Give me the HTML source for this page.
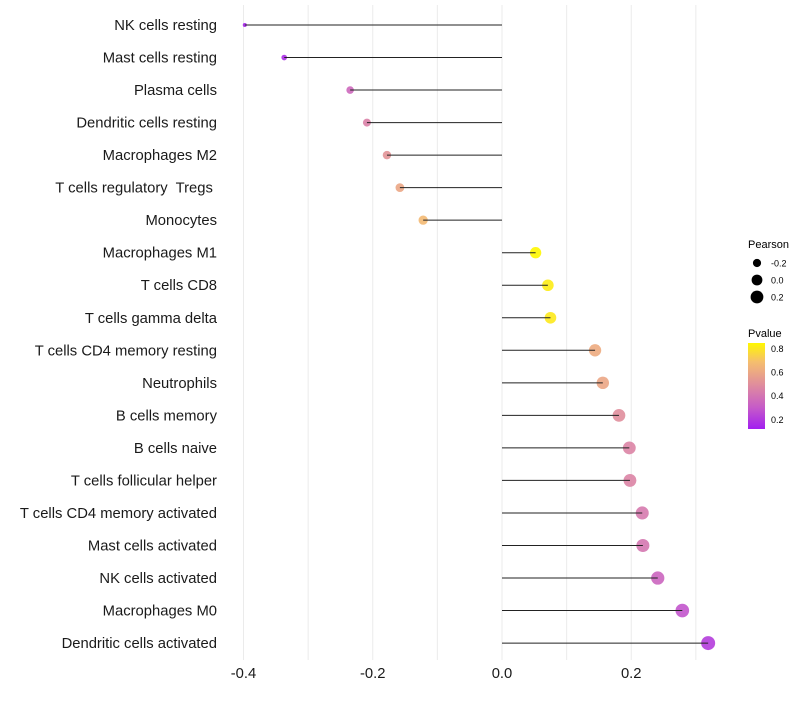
<!DOCTYPE html>
<html><head><meta charset="utf-8"><style>
body{margin:0;background:#fff;font-family:"Liberation Sans",sans-serif;}
svg text{font-family:"Liberation Sans",sans-serif;}
</style></head><body>
<svg id="chart" width="800" height="700" xmlns="http://www.w3.org/2000/svg">
<g id="grid"></g>
<g id="marks"></g>
<g id="ylabels"></g>
<g id="xlabels"></g>
<g id="legend">
<text x="748" y="248" font-size="11" fill="#000">Pearson</text>
<circle cx="757" cy="263" r="4.1" fill="#000"/><text x="771" y="266.5" font-size="9">-0.2</text>
<circle cx="757" cy="280" r="5.4" fill="#000"/><text x="771" y="283.5" font-size="9">0.0</text>
<circle cx="757" cy="297" r="6.4" fill="#000"/><text x="771" y="300.5" font-size="9">0.2</text>
<text x="748" y="337" font-size="11" fill="#000">Pvalue</text>
<defs><linearGradient id="pg" x1="0" y1="1" x2="0" y2="0">
<stop offset="0" stop-color="#A21FF0"/><stop offset="0.25" stop-color="#C65BC8"/><stop offset="0.52" stop-color="#E08E9C"/><stop offset="0.78" stop-color="#F5BE6E"/><stop offset="1" stop-color="#FFF700"/></linearGradient></defs>
<rect x="748" y="343" width="17" height="86" fill="url(#pg)"/>
<text x="771" y="352" font-size="9">0.8</text>
<text x="771" y="375.5" font-size="9">0.6</text>
<text x="771" y="399" font-size="9">0.4</text>
<text x="771" y="423" font-size="9">0.2</text>
</g>
</svg>
<script>
const categories=["NK cells resting","Mast cells resting","Plasma cells","Dendritic cells resting","Macrophages M2","T cells regulatory  Tregs ","Monocytes","Macrophages M1","T cells CD8","T cells gamma delta","T cells CD4 memory resting","Neutrophils","B cells memory","B cells naive","T cells follicular helper","T cells CD4 memory activated","Mast cells activated","NK cells activated","Macrophages M0","Dendritic cells activated"];
const pearson=[-0.398,-0.337,-0.235,-0.209,-0.178,-0.158,-0.122,0.052,0.071,0.075,0.144,0.156,0.181,0.197,0.198,0.217,0.218,0.241,0.279,0.319];
const pvalue=[0.12,0.15,0.35,0.45,0.52,0.6,0.68,0.86,0.83,0.82,0.62,0.6,0.5,0.46,0.46,0.42,0.41,0.34,0.28,0.2];
const xTicks=[-0.4,-0.2,0.0,0.2];
const xTickLabels=["-0.4","-0.2","0.0","0.2"];
const xGrid=[-0.4,-0.3,-0.2,-0.1,0,0.1,0.2,0.3];
const NS="http://www.w3.org/2000/svg";
const xs=v=>502+v*646.25;
const ys=i=>25+i*32.53;
const stops=[[0.1,[162,31,240]],[0.3,[198,91,200]],[0.5,[224,142,156]],[0.7,[245,190,110]],[0.86,[255,247,0]]];
function col(p){if(p<=stops[0][0])return "rgb("+stops[0][1]+")";for(let k=1;k<stops.length;k++){if(p<=stops[k][0]){const t=(p-stops[k-1][0])/(stops[k][0]-stops[k-1][0]);const a=stops[k-1][1],b=stops[k][1];return "rgb("+a.map((c,j)=>Math.round(c+(b[j]-c)*t)).join(",")+")";}}return "rgb("+stops[stops.length-1][1]+")";}
function mk(tag,attrs,parent){const e=document.createElementNS(NS,tag);for(const k in attrs)e.setAttribute(k,attrs[k]);parent.appendChild(e);return e;}
const grid=document.getElementById('grid'),marks=document.getElementById('marks'),yl=document.getElementById('ylabels'),xl=document.getElementById('xlabels');
xGrid.forEach(v=>{const l=mk('line',{x1:xs(v),x2:xs(v),y1:5,y2:660,stroke:'#ebebeb','stroke-width':1},grid);

});
categories.forEach((c,i)=>{
const y=ys(i),x=xs(pearson[i]);
const r=Math.sqrt(4+62.5*Math.max(0,pearson[i]+0.4));
const pt=mk('circle',{cx:x,cy:y,r:r,fill:col(pvalue[i]),'fill-opacity':0.9},marks);


const seg=mk('line',{x1:xs(0),x2:x,y1:y,y2:y,stroke:'#222','stroke-width':1},marks);


const t=mk('text',{x:217,y:y+5,'text-anchor':'end','font-size':14.8,fill:'#1a1a1a'},yl);
t.textContent=c;


t.setAttribute('xml:space','preserve');t.style.whiteSpace='pre';
});
xTicks.forEach((v,i)=>{const t=mk('text',{x:xs(v),y:678,'text-anchor':'middle','font-size':14.8,fill:'#1a1a1a'},xl);
t.textContent=xTickLabels[i];

});
</script>
</body></html>
